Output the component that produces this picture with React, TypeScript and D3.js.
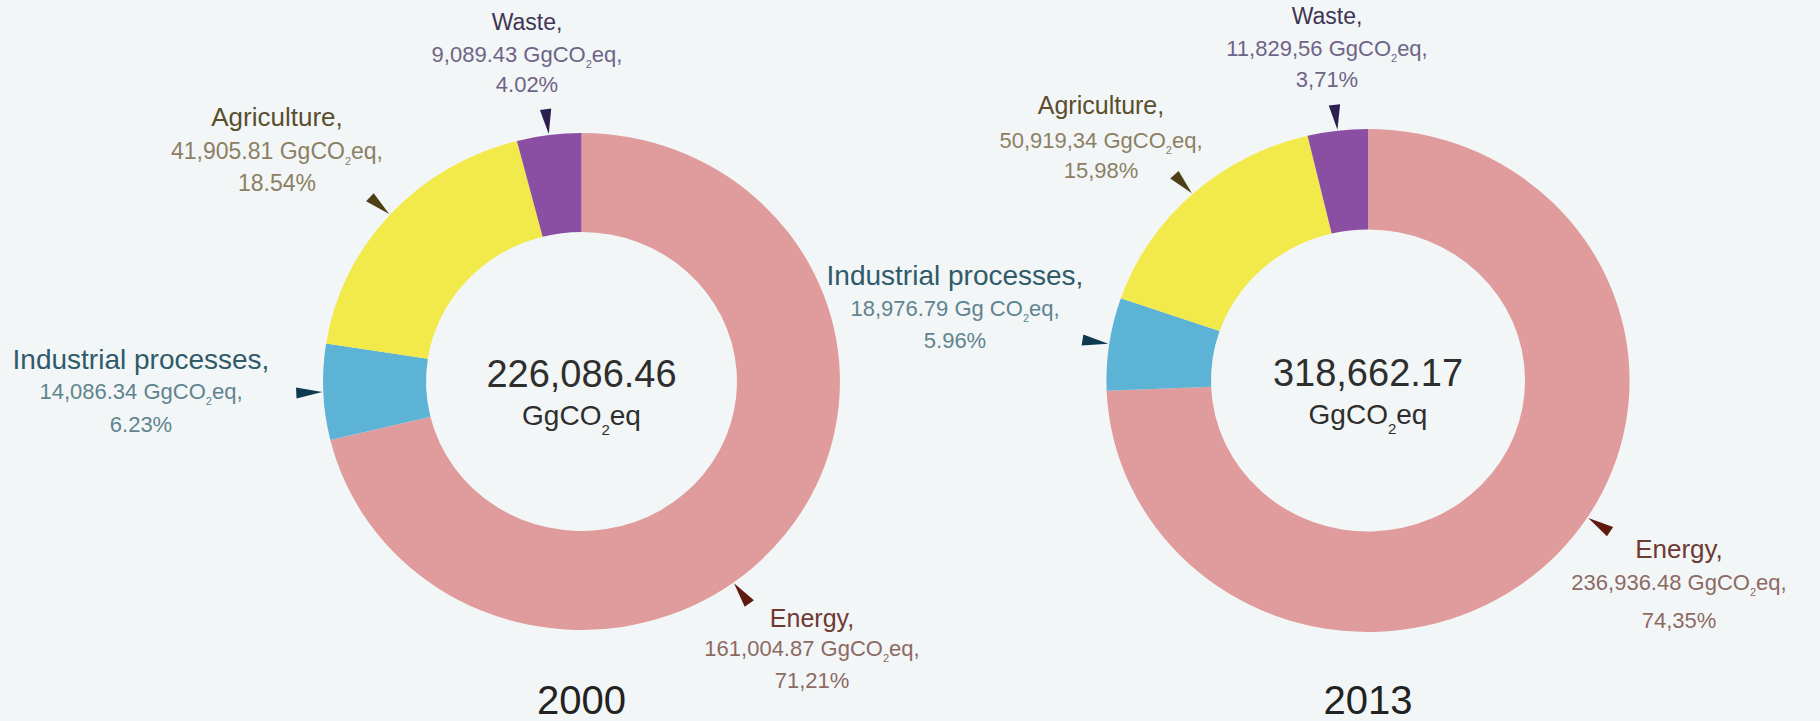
import React from 'react';
import * as d3 from 'd3';

// ---------- data ----------
const categories = ['Energy', 'Industrial processes', 'Agriculture', 'Waste'];
const years = ['2000', '2013'];
const values2000 = [161004.87, 14086.34, 41905.81, 9089.43];
const values2013 = [236936.48, 18976.79, 50919.34, 11829.56];
const totalLabels = ['226,086.46', '318,662.17'];
const amountLabels2000 = ['161,004.87', '14,086.34', '41,905.81', '9,089.43'];
const amountLabels2013 = ['236,936.48', '18,976.79', '50,919,34', '11,829,56'];
const unitPrefix2000 = ['GgCO', 'GgCO', 'GgCO', 'GgCO'];
const unitPrefix2013 = ['GgCO', 'Gg CO', 'GgCO', 'GgCO'];
const pctLabels2000 = ['71,21%', '6.23%', '18.54%', '4.02%'];
const pctLabels2013 = ['74,35%', '5.96%', '15,98%', '3,71%'];

// ---------- styles / layout ----------
const W = 1820;
const H = 721;
const BG = '#f3f6f6';
const FONT = "'Liberation Sans', Arial, Helvetica, sans-serif";
const sliceColors = ['#e09c9c', '#5cb3d5', '#f2ea4a', '#8a4ea2'];
const nameColors = ['#6e3a33', '#2f5b6b', '#5a4e2e', '#3f3554'];
const valueColors = ['#8c6a64', '#5f8490', '#8b8064', '#6e6488'];
const arrowColors = ['#5e1a10', '#0f3a4f', '#4d4016', '#2a1f4f'];

const donuts = [
  { cx: 581.5, cy: 381.5, rOut: 248.5, rIn: 149.5, sx: 1.04 },
  { cx: 1368, cy: 380.5, rOut: 251.5, rIn: 151, sx: 1.04 },
];

// label anchor (center x, baseline of first line) and line offsets
const labelLayout = [
  [
    { x: 812, y: 627, g1: 29, g2: 61, nameSize: 25, valSize: 22 },
    { x: 141, y: 369, g1: 30, g2: 63, nameSize: 28, valSize: 22 },
    { x: 277, y: 126, g1: 33, g2: 65, nameSize: 26, valSize: 23 },
    { x: 527, y: 30, g1: 32, g2: 62, nameSize: 23, valSize: 22 },
  ],
  [
    { x: 1679, y: 558, g1: 32, g2: 70, nameSize: 26, valSize: 22 },
    { x: 955, y: 285, g1: 31, g2: 63, nameSize: 28, valSize: 22 },
    { x: 1101, y: 114, g1: 34, g2: 64, nameSize: 25, valSize: 22 },
    { x: 1327, y: 24, g1: 32, g2: 63, nameSize: 23, valSize: 22 },
  ],
];
// arrow angle override (degrees clockwise from 12 o'clock); null = slice middle
const arrowAngles = [
  [144, null, null, null],
  [123, null, null, null],
];

const seriesValues = [values2000, values2013];
const seriesAmounts = [amountLabels2000, amountLabels2013];
const seriesUnits = [unitPrefix2000, unitPrefix2013];
const seriesPcts = [pctLabels2000, pctLabels2013];

function Donut({ idx }: { idx: number }) {
  const d = donuts[idx];
  const values = seriesValues[idx];
  const pie = d3.pie<number>().sort(null).value((v) => v);
  const arcs = pie(values);
  const arc = d3.arc<d3.PieArcDatum<number>>().innerRadius(d.rIn).outerRadius(d.rOut);

  const arrowLen = 25;
  const arrowHalf = 5.5;

  return (
    <g>
      <g transform={`translate(${d.cx},${d.cy}) scale(${d.sx},1)`}>
        {arcs.map((a, i) => (
          <path key={i} d={arc(a) || ''} fill={sliceColors[i]} />
        ))}
        {arcs.map((a, i) => {
          const over = arrowAngles[idx][i];
          const ang = over != null ? (over * Math.PI) / 180 : (a.startAngle + a.endAngle) / 2;
          const ux = Math.sin(ang);
          const uy = -Math.cos(ang);
          const px = -uy;
          const py = ux;
          const r0 = d.rOut + 1;
          const r1 = r0 + arrowLen;
          const tip = [ux * r0, uy * r0];
          const b1 = [ux * r1 + px * arrowHalf, uy * r1 + py * arrowHalf];
          const b2 = [ux * r1 - px * arrowHalf, uy * r1 - py * arrowHalf];
          return (
            <path
              key={'ar' + i}
              d={`M${tip[0]},${tip[1]}L${b1[0]},${b1[1]}L${b2[0]},${b2[1]}Z`}
              fill={arrowColors[i]}
            />
          );
        })}
      </g>
      {/* center total */}
      <text x={d.cx} y={d.cy + 5} textAnchor="middle" fontFamily={FONT} fontSize={38} fill="#2e2e2e">
        {totalLabels[idx]}
      </text>
      <text x={d.cx} y={d.cy + 43} textAnchor="middle" fontFamily={FONT} fontSize={28} fill="#2e2e2e">
        GgCO<tspan fontSize={15} dy={10}>2</tspan>
        <tspan dy={-10}>eq</tspan>
      </text>
      {/* year */}
      <text x={d.cx} y={714} textAnchor="middle" fontFamily={FONT} fontSize={40} fill="#222">
        {years[idx]}
      </text>
      {/* labels */}
      {categories.map((c, i) => {
        const L = labelLayout[idx][i];
        return (
          <text key={'lb' + i} textAnchor="middle" fontFamily={FONT}>
            <tspan x={L.x} y={L.y} fontSize={L.nameSize} fill={nameColors[i]}>
              {c},
            </tspan>
            <tspan x={L.x} y={L.y + L.g1} fontSize={L.valSize} fill={valueColors[i]}>
              {seriesAmounts[idx][i]} {seriesUnits[idx][i]}
              <tspan fontSize={11} dy={6}>2</tspan>
              <tspan dy={-6}>eq,</tspan>
            </tspan>
            <tspan x={L.x} y={L.y + L.g2} fontSize={L.valSize} fill={valueColors[i]}>
              {seriesPcts[idx][i]}
            </tspan>
          </text>
        );
      })}
    </g>
  );
}

export default function App() {
  return (
    <svg
      width={W}
      height={H}
      viewBox={`0 0 ${W} ${H}`}
      style={{ position: 'absolute', left: 0, top: 0, display: 'block' }}
    >
      <rect x={0} y={0} width={W} height={H} fill={BG} />
      {years.map((y, i) => (
        <Donut key={y} idx={i} />
      ))}
    </svg>
  );
}
